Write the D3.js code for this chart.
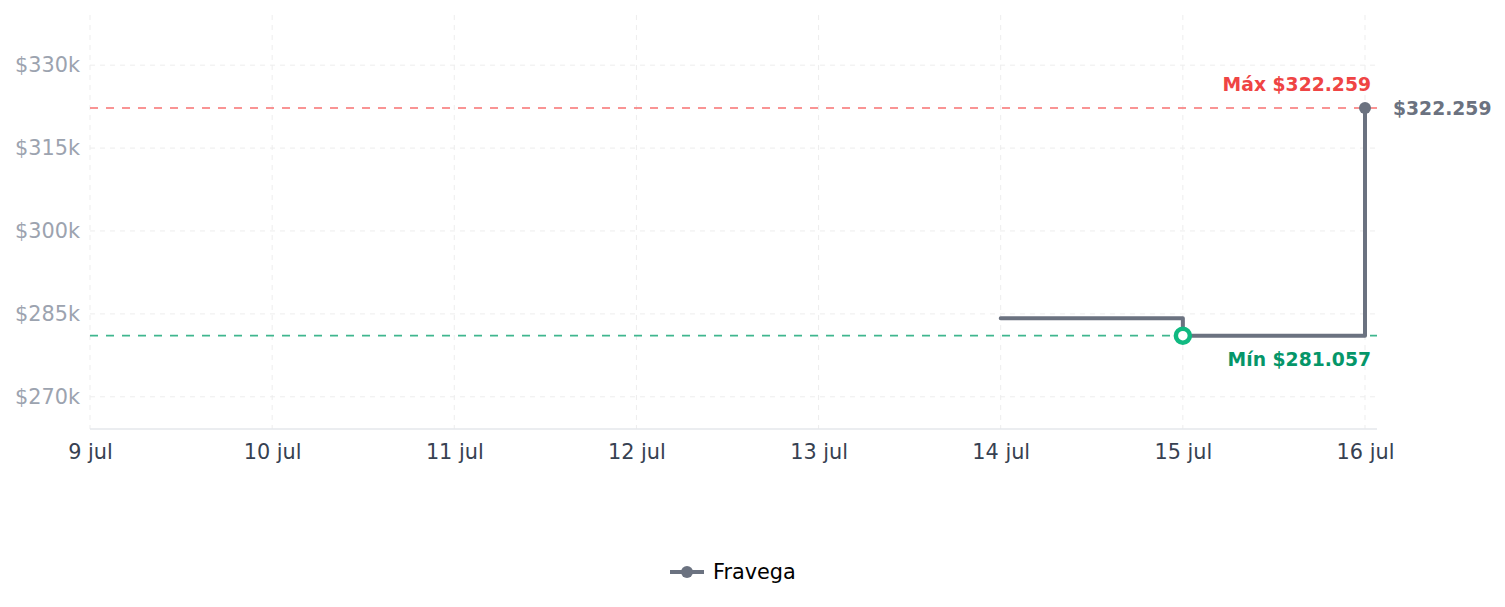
<!DOCTYPE html>
<html>
<head>
<meta charset="utf-8">
<script src="https://cdn.jsdelivr.net/npm/d3@7"></script>
<style>
    body { margin: 0; background: #ffffff; }
    svg { font-family: "DejaVu Sans", sans-serif; }
</style>
</head>
<body>
<div class="price-chart"></div>
<script>
//Data
const dates = ["2024-07-14", "2024-07-15", "2024-07-16"];
const prices = [284220, 281057, 322259];
const storeName = "Fravega";
const xTickDates = ["2024-07-09", "2024-07-10", "2024-07-11", "2024-07-12", "2024-07-13", "2024-07-14", "2024-07-15", "2024-07-16"];
const yTickValues = [270000, 285000, 300000, 315000, 330000];
const yDomain = [264170, 338900];

const monthNames = ["ene", "feb", "mar", "abr", "may", "jun", "jul", "ago", "sep", "oct", "nov", "dic"];
const parseDate = d3.timeParse("%Y-%m-%d");

//Layout (window.top is taken, so keep these in one object)
const chart = {
    width: 1505,
    height: 607,
    left: 90,
    right: 1377,
    top: 16,
    bottom: 429
};

const lineColor = "#6b7280";
const tickFont = "20.8px";
const labelFont = "18.75px";

const data = dates.map((d, i) => ({ date: parseDate(d), price: prices[i] }));
const xTicks = xTickDates.map(parseDate);

//Scales (16 jul sits a bit inside the right edge)
const x = d3.scaleTime()
    .domain([xTicks[0], xTicks[xTicks.length - 1]])
    .range([chart.left, 1365]);
const y = d3.scaleLinear()
    .domain(yDomain)
    .range([chart.bottom, chart.top]);

//Price format like $322.259
function money(v) {
    return "$" + d3.format(",")(Math.round(v)).replace(/,/g, ".");
}

const svg = d3.select(".price-chart")
    .append("svg")
    .attr("width", chart.width)
    .attr("height", chart.height);

//Grid
svg.append("g")
    .selectAll("line")
    .data(yTickValues)
    .join("line")
    .attr("x1", chart.left)
    .attr("x2", chart.right)
    .attr("y1", d => y(d))
    .attr("y2", d => y(d))
    .style("stroke", "#ededed")
    .style("stroke-dasharray", "5,5");

svg.append("g")
    .selectAll("line")
    .data(xTicks)
    .join("line")
    .attr("x1", d => x(d))
    .attr("x2", d => x(d))
    .attr("y1", chart.top - 1)
    .attr("y2", chart.bottom)
    .style("stroke", "#ededed")
    .style("stroke-dasharray", "5,5");

//Y axis labels
const yAxis = svg.append("g")
    .attr("transform", `translate(${chart.left - 10},0)`)
    .call(d3.axisLeft(y).tickValues(yTickValues).tickSize(0).tickFormat(d => "$" + d / 1000 + "k"));
yAxis.select(".domain").remove();
yAxis.selectAll("text")
    .attr("x", 0)
    .style("font-size", tickFont)
    .style("font-family", "DejaVu Sans")
    .style("fill", "#9ca3af");

//X axis
const xAxis = svg.append("g")
    .attr("transform", `translate(0,${chart.bottom})`)
    .call(d3.axisBottom(x).tickValues(xTicks).tickSize(0)
        .tickFormat(d => d.getDate() + " " + monthNames[d.getMonth()]));
xAxis.select(".domain").remove();
xAxis.append("line")
    .attr("x1", chart.left)
    .attr("x2", chart.right)
    .style("stroke", "#e5e7eb")
    .style("stroke-width", 1.5);
xAxis.selectAll("text")
    .attr("y", 15)
    .style("font-size", tickFont)
    .style("font-family", "DejaVu Sans")
    .style("fill", "#374151");

//Min / max reference lines
const maxPoint = data.reduce((a, b) => (b.price > a.price ? b : a));
const minPoint = data.reduce((a, b) => (b.price < a.price ? b : a));
const lastPoint = data[data.length - 1];

svg.append("line")
    .attr("x1", chart.left)
    .attr("x2", chart.right)
    .attr("y1", y(maxPoint.price))
    .attr("y2", y(maxPoint.price))
    .style("stroke", "#f87171")
    .style("stroke-width", 1.6)
    .style("stroke-dasharray", "8,8");

svg.append("line")
    .attr("x1", chart.left)
    .attr("x2", chart.right)
    .attr("y1", y(minPoint.price))
    .attr("y2", y(minPoint.price))
    .style("stroke", "#3fb68e")
    .style("stroke-width", 1.6)
    .style("stroke-dasharray", "8,8");

svg.append("text")
    .attr("x", 1371)
    .attr("y", y(maxPoint.price) - 17)
    .attr("text-anchor", "end")
    .style("font-size", labelFont)
    .style("font-weight", "bold")
    .style("fill", "#ef4444")
    .text("Máx " + money(maxPoint.price));

svg.append("text")
    .attr("x", 1371)
    .attr("y", y(minPoint.price) + 30)
    .attr("text-anchor", "end")
    .style("font-size", labelFont)
    .style("font-weight", "bold")
    .style("fill", "#059669")
    .text("Mín " + money(minPoint.price));

//Price line
const line = d3.line()
    .x(d => x(d.date))
    .y(d => y(d.price))
    .curve(d3.curveStepAfter);

svg.append("path")
    .datum(data)
    .attr("d", line)
    .style("fill", "none")
    .style("stroke", lineColor)
    .style("stroke-width", 4)
    .style("stroke-linejoin", "round")
    .style("stroke-linecap", "round");

//Last point + label
svg.append("circle")
    .attr("cx", x(lastPoint.date))
    .attr("cy", y(lastPoint.price))
    .attr("r", 6)
    .style("fill", lineColor);

svg.append("text")
    .attr("x", x(lastPoint.date) + 28)
    .attr("y", y(lastPoint.price))
    .attr("dy", "0.35em")
    .style("font-size", labelFont)
    .style("font-weight", "bold")
    .style("fill", lineColor)
    .text(money(lastPoint.price));

//Min marker
svg.append("circle")
    .attr("cx", x(minPoint.date))
    .attr("cy", y(minPoint.price))
    .attr("r", 7)
    .style("fill", "#ffffff")
    .style("stroke", "#10b981")
    .style("stroke-width", 4.5);

//Legend
const legend = svg.append("g")
    .attr("transform", "translate(670,572)");
legend.append("line")
    .attr("x1", 0)
    .attr("x2", 34)
    .style("stroke", lineColor)
    .style("stroke-width", 4);
legend.append("circle")
    .attr("cx", 17)
    .attr("r", 6)
    .style("fill", lineColor);
legend.append("text")
    .attr("x", 43)
    .attr("dy", "0.35em")
    .style("font-size", tickFont)
    .style("fill", "#000000")
    .text(storeName);
</script>
</body>
</html>
